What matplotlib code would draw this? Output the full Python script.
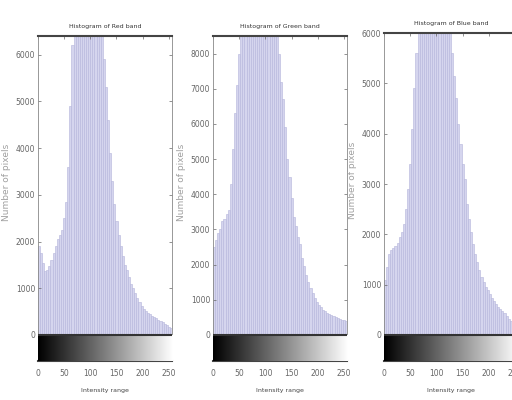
import numpy as np
import matplotlib
matplotlib.use("Agg")
import matplotlib.pyplot as plt

# bin starts (intensity) for 64 bins of width 4
bins = np.arange(0, 256, 4)

red_counts = [1900, 1750, 1550, 1380, 1400, 1480, 1600, 1750, 1900, 2050, 2150, 2250,
              2500, 2850, 3600, 4900, 6200, 7000, 7600, 8000, 8300, 8500, 8700, 8800,
              8800, 8700, 8500, 8200, 7800, 7200, 6500, 5900, 5300, 4600, 3900, 3300,
              2800, 2450, 2150, 1900, 1700, 1500, 1400, 1250, 1100, 1000, 900, 800,
              700, 620, 560, 510, 470, 440, 410, 380, 360, 330, 300, 270, 240, 210, 180, 150]

green_counts = [2500, 2700, 2900, 3000, 3250, 3300, 3450, 3550, 4300, 5300, 6300, 7100,
                8000, 8800, 9300, 9700, 10000, 10300, 10500, 10600, 10700, 10700, 10600, 10500,
                10400, 10300, 10100, 9900, 9700, 9400, 9000, 8000, 7200, 6700, 5900, 5000,
                4500, 3900, 3350, 3100, 2800, 2600, 2200, 1950, 1700, 1520, 1350, 1180,
                1050, 950, 860, 790, 720, 680, 630, 590, 560, 530, 500, 490, 460, 440, 420, 390]

blue_counts = [1100, 1350, 1600, 1680, 1720, 1760, 1820, 1950, 2050, 2200, 2500, 2900,
               3400, 4100, 4900, 5600, 6200, 6700, 7100, 7400, 7600, 7700, 7800, 7800,
               7700, 7600, 7400, 7200, 6900, 6600, 6300, 6100, 5600, 5150, 4700, 4200,
               3800, 3400, 3100, 2600, 2300, 2050, 1800, 1600, 1450, 1300, 1150, 1050,
               950, 900, 820, 740, 670, 610, 560, 520, 480, 440, 380, 320, 270, 230, 200, 170]

titles = ["Histogram of Red band", "Histogram of Green band", "Histogram of Blue band"]
ymax = [6400, 8500, 6000]
yticks = [np.arange(0, 6001, 1000), np.arange(0, 8001, 1000), np.arange(0, 6001, 1000)]
xticks = [0, 50, 100, 150, 200, 250]

# panel positions in figure fraction: left, top (bottom of gray strip at 0.0975)
panels = [(0.074, 0.91), (0.416, 0.91), (0.750, 0.9175)]
width = 0.262
bottom = 0.0975
strip_frac = 0.065  # height of gray strip, figure fraction

fig = plt.figure(figsize=(5.12, 4.0), dpi=100)
gradient = np.linspace(0, 1, 256).reshape(1, -1)

for counts, title, ym, yt, (left, top) in zip([red_counts, green_counts, blue_counts],
                                              titles, ymax, yticks, panels):
    hist_h = top - bottom - strip_frac
    strip = ym * strip_frac / hist_h  # strip height in data units

    ax = fig.add_axes([left, bottom, width, top - bottom])
    ax.bar(bins, counts, width=4, align="edge", color="#d5d5ee",
           edgecolor="#b4b4da", linewidth=0.4)
    ax.imshow(gradient, cmap="gray", aspect="auto", extent=[0, 256, -strip, 0],
              zorder=3)
    ax.axhline(0, color="#333333", linewidth=1.5, zorder=4)
    ax.set_xlim(0, 256)
    ax.set_ylim(-strip, ym)
    ax.set_yticks(yt)
    ax.set_xticks(xticks)
    ax.tick_params(axis="both", direction="in", length=2, width=0.5, colors="#666666",
                   labelsize=5.5, top=True, right=True, pad=2)
    ax.tick_params(axis="x", pad=6)
    ax.set_title(title, fontsize=4.5, color="#333333", pad=6)
    ax.set_ylabel("Number of pixels", fontsize=6.5, color="#a0a0a0")
    ax.yaxis.set_label_coords(-0.2, 0.55)
    ax.set_xlabel("Intensity range", fontsize=4.5, color="#444444", labelpad=7)
    for side in ["left", "right"]:
        ax.spines[side].set_color("#888888")
        ax.spines[side].set_linewidth(0.6)
    for side in ["top", "bottom"]:
        ax.spines[side].set_color("#444444")
        ax.spines[side].set_linewidth(1.5)

fig.savefig("out.png", dpi=100)
